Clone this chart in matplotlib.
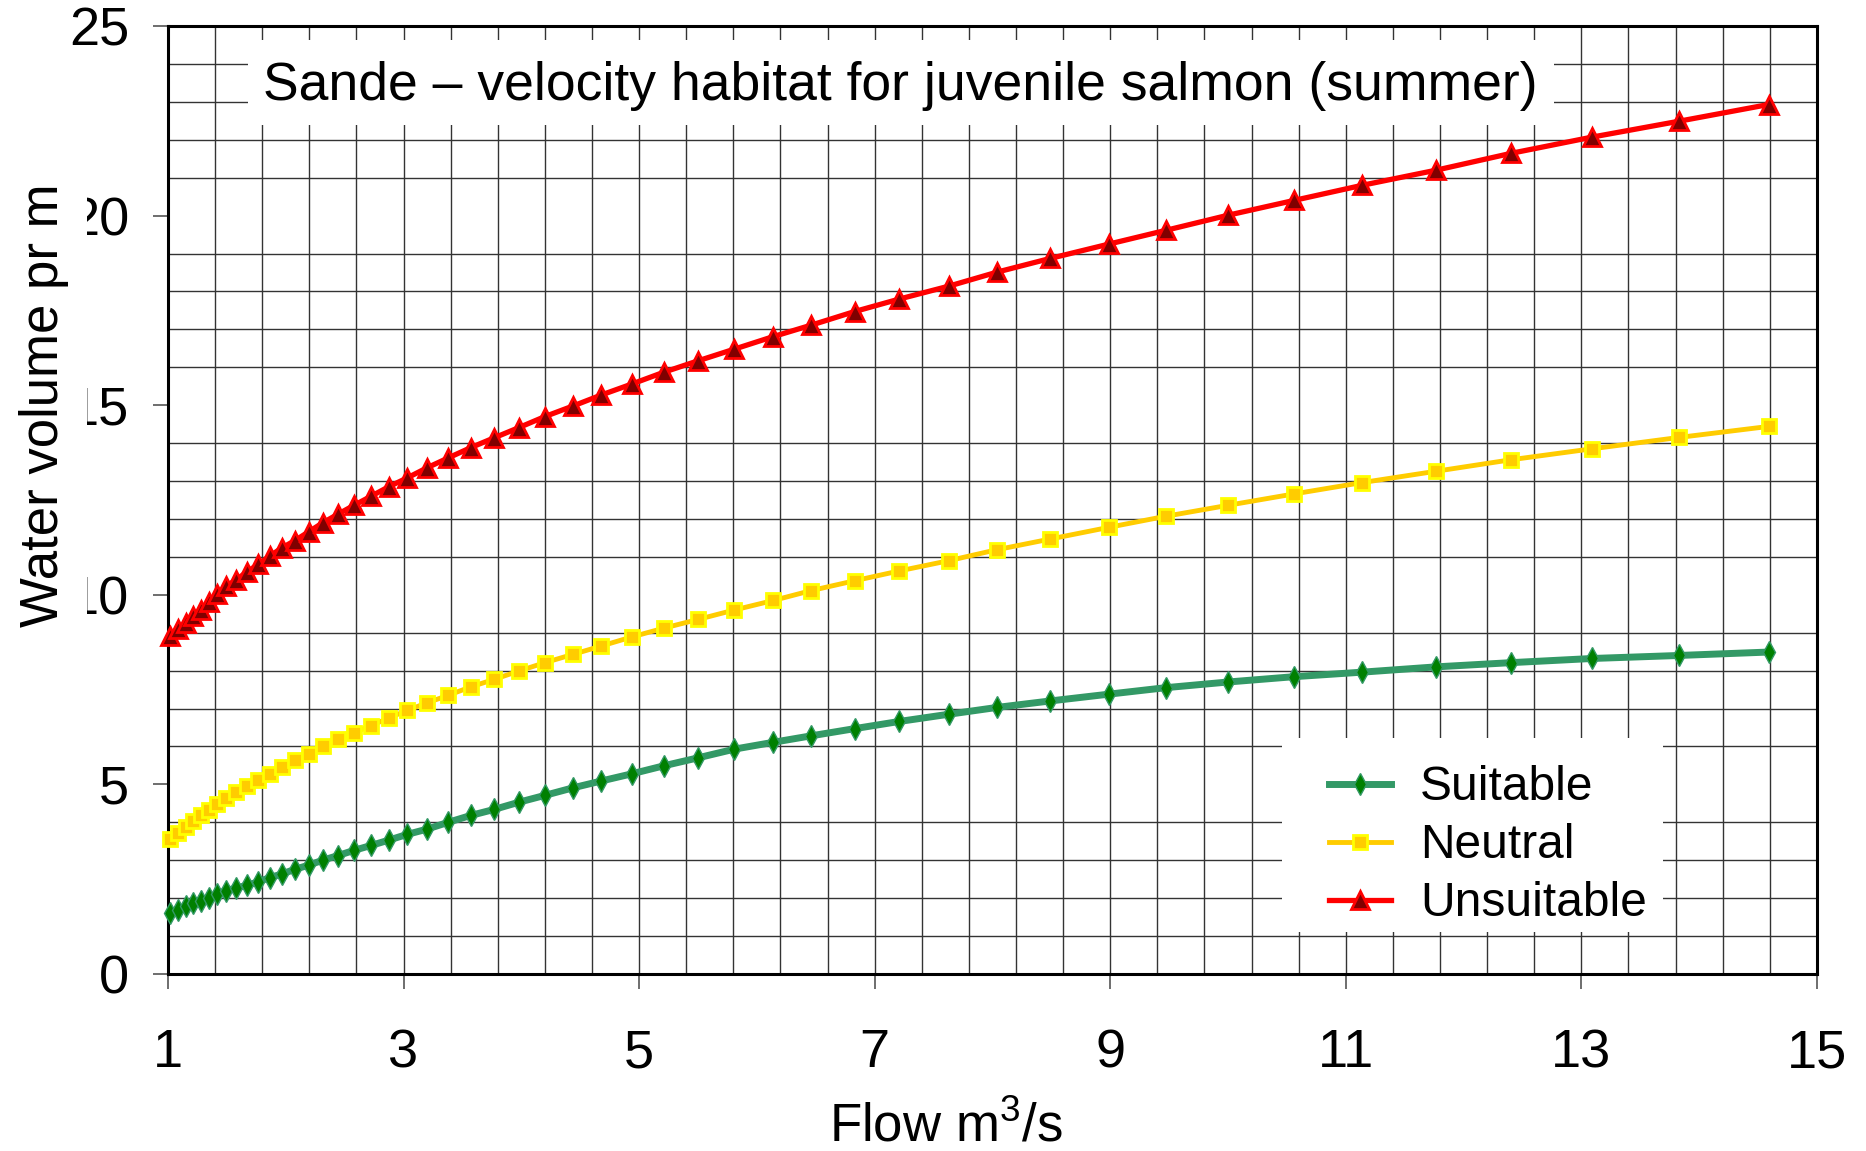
import matplotlib
matplotlib.use("Agg")
import matplotlib.pyplot as plt
from matplotlib.patches import Rectangle
import numpy as np

# Flow (m3/s) and water volume per metre for each velocity class
flow = [1.02, 1.085, 1.15, 1.215, 1.28, 1.347, 1.418, 1.497, 1.582, 1.672,
        1.766, 1.864, 1.969, 2.078, 2.194, 2.315, 2.44, 2.58, 2.725, 2.875,
        3.03, 3.2, 3.38, 3.57, 3.77, 3.98, 4.2, 4.44, 4.68, 4.94,
        5.21, 5.5, 5.81, 6.14, 6.46, 6.83, 7.21, 7.63, 8.04, 8.49,
        8.99, 9.47, 10.0, 10.56, 11.14, 11.77, 12.40, 13.09, 13.83, 14.59]

suitable = [1.61, 1.70, 1.79, 1.86, 1.93, 2.01, 2.12, 2.20, 2.27, 2.34,
            2.43, 2.54, 2.64, 2.76, 2.87, 3.00, 3.12, 3.26, 3.39, 3.53,
            3.68, 3.82, 4.00, 4.18, 4.34, 4.53, 4.71, 4.91, 5.09, 5.28,
            5.49, 5.70, 5.93, 6.11, 6.28, 6.47, 6.66, 6.85, 7.03, 7.20,
            7.38, 7.55, 7.70, 7.84, 7.96, 8.10, 8.21, 8.32, 8.40, 8.49]

neutral = [3.55, 3.72, 3.88, 4.03, 4.18, 4.32, 4.49, 4.65, 4.80, 4.97,
           5.11, 5.27, 5.45, 5.63, 5.81, 6.00, 6.19, 6.36, 6.55, 6.75,
           6.95, 7.15, 7.35, 7.57, 7.77, 7.99, 8.21, 8.43, 8.65, 8.89,
           9.12, 9.35, 9.60, 9.85, 10.11, 10.37, 10.63, 10.90, 11.19, 11.47,
           11.78, 12.07, 12.36, 12.66, 12.96, 13.26, 13.56, 13.85, 14.15, 14.44]

unsuitable = [8.91, 9.09, 9.26, 9.44, 9.61, 9.81, 10.01, 10.23, 10.40, 10.61,
              10.80, 11.02, 11.24, 11.43, 11.66, 11.90, 12.12, 12.36, 12.60, 12.85,
              13.08, 13.35, 13.61, 13.88, 14.14, 14.41, 14.70, 14.98, 15.27, 15.56,
              15.87, 16.17, 16.48, 16.81, 17.11, 17.47, 17.80, 18.14, 18.51, 18.87,
              19.25, 19.61, 20.01, 20.40, 20.80, 21.20, 21.64, 22.07, 22.49, 22.93]

series_labels = ["Suitable", "Neutral", "Unsuitable"]
x_ticks = [1, 3, 5, 7, 9, 11, 13, 15]
y_ticks = [0, 5, 10, 15, 20, 25]

title_text = "Sande \u2013 velocity habitat for juvenile salmon (summer)"
x_label = r"Flow m$^\mathregular{3}$/s"
y_label = "Water volume pr m"

plt.rcParams['font.family'] = ['Liberation Sans', 'DejaVu Sans']
plt.rcParams['mathtext.fontset'] = 'custom'
plt.rcParams['mathtext.rm'] = 'Liberation Sans'

fig = plt.figure(figsize=(18.66, 11.51), dpi=100)
ax = fig.add_axes([0.0900, 0.1538, 0.8837, 0.8236])
ax.set_axisbelow(True)

styles = [
    dict(color='#339966', lw=5.0, marker='d', ms=11, mfc='#008000', mec='#339966', mew=1.0),
    dict(color='#FFCC00', lw=3.5, marker='s', ms=10.5, mfc='#FFCC00', mec='#FFFF00', mew=2.0),
    dict(color='#FF0000', lw=3.8, marker='^', ms=12.5, mfc='#800000', mec='#FF0000', mew=2.0),
]
handles = []
for values, label, st in zip([suitable, neutral, unsuitable], series_labels, styles):
    h, = ax.plot(flow, values, label=label, zorder=3, clip_on=False, **st)
    handles.append(h)

ax.set_xlim(1, 15)
ax.set_ylim(0, 25)
ax.set_xticks(x_ticks)
ax.set_yticks(y_ticks)
ax.set_xticks(1 + 0.4 * np.arange(1, 35), minor=True)
ax.set_yticks([v for v in range(1, 25) if v % 5], minor=True)

grid_kw = dict(color='#333333', lw=1.0)
ax.grid(which='major', axis='x', **grid_kw)
ax.grid(which='minor', axis='both', **grid_kw)

ax.tick_params(which='minor', length=0)
ax.tick_params(axis='x', which='major', direction='out', length=11, width=1.2,
               color='#555555', labelsize=39, pad=28)
ax.tick_params(axis='y', which='major', direction='out', length=11, width=1.2,
               color='#555555', labelsize=39, pad=17)

for sp in ax.spines.values():
    sp.set_linewidth(2.2)
    sp.set_color('black')

# white panel behind the title
ax.add_patch(Rectangle((0.0486, 0.896), 0.7921, 0.0896, transform=ax.transAxes,
                       facecolor='white', edgecolor='none', zorder=1))
ax.text(0.444, 0.937, title_text, transform=ax.transAxes, ha='center', va='center',
        fontsize=38.5, zorder=4)

# white panel behind the legend
ax.add_patch(Rectangle((0.6757, 0.0446), 0.2311, 0.2042, transform=ax.transAxes,
                       facecolor='white', edgecolor='none', zorder=1))
ax.legend(handles=handles, labels=series_labels, loc='upper left',
          bbox_to_anchor=(0.7044, 0.2200), frameon=False, fontsize=34.5,
          handlelength=1.29, handletextpad=0.6, borderpad=0, borderaxespad=0,
          labelspacing=0.27, numpoints=1)

ax.text(0.472, -0.162, x_label, transform=ax.transAxes, ha='center', va='center',
        fontsize=38, clip_on=False)
ax.text(-0.075, 0.600, y_label, transform=ax.transAxes, ha='center', va='center',
        rotation=90, fontsize=38, clip_on=False, zorder=10,
        bbox=dict(facecolor='white', edgecolor='none', pad=12.5))

fig.savefig("out.png", dpi=100)
